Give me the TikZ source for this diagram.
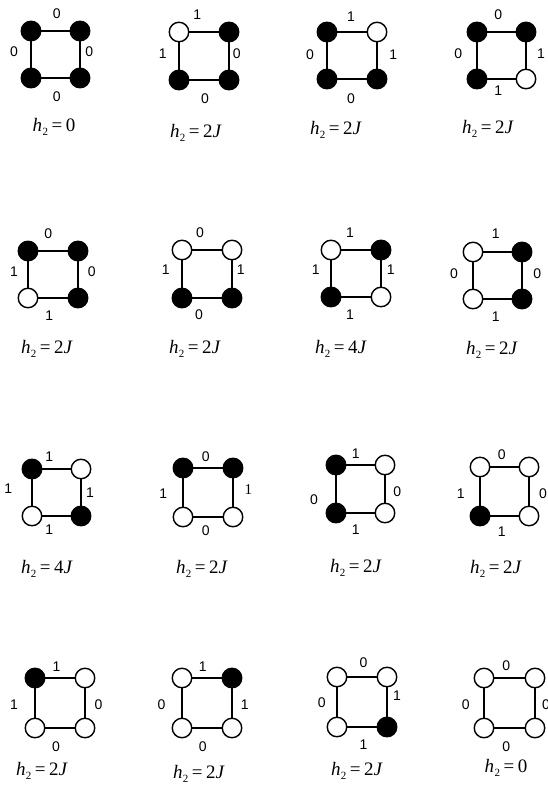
\documentclass[tikz,border=0pt]{standalone}
\usepackage{fontspec}
\setmainfont{Liberation Serif}
\newfontfamily\labfont{Liberation Sans}
\tikzset{
  spin/.style={circle, draw=black, line width=1.4pt, minimum size=19.5pt, inner sep=0pt},
  B/.style={spin, fill=black},
  W/.style={spin, fill=white},
  edge/.style={line width=1.9pt},
  lab/.style={font=\labfont\fontsize{14}{15}\selectfont, inner sep=0pt},
  slab/.style={font=\fontsize{15}{16}\selectfont, inner sep=0pt},
  hlab/.style={font=\fontsize{19}{20}\selectfont, inner sep=0pt, anchor=base},
}
\newcommand\hval[1]{\textit{h}\kern0.3pt\raisebox{-4.5pt}{\fontsize{11}{12}\selectfont 2}\kern3.5pt=\kern3.5pt#1}
\newcommand\cellsq[9]{%
  \node[#6] (#1a) at (#2,#4) {};
  \node[#7] (#1b) at (#3,#4) {};
  \node[#8] (#1c) at (#2,#5) {};
  \node[#9] (#1d) at (#3,#5) {};
  \draw[edge] (#1a) -- (#1b);
  \draw[edge] (#1b) -- (#1d);
  \draw[edge] (#1d) -- (#1c);
  \draw[edge] (#1c) -- (#1a);
}
\newcommand\elab[4]{\node[lab] (#1) at (#2,#3) {#4};}
\begin{document}
\begin{tikzpicture}[x=1pt,y=-1pt]
\useasboundingbox (0,0) rectangle (548,787);
% Row 1
\cellsq{pa}{31}{80}{31}{78}{B}{B}{B}{B}
\elab{pat}{56.7}{14}{0}\elab{pal}{14}{51.7}{0}\elab{par}{89.3}{51.7}{0}\elab{pab}{56.7}{96.7}{0}
\node[hlab] (pah) at (54,131) {\hval{0}};
\cellsq{pb}{179}{229}{32}{80}{W}{B}{B}{B}
\elab{pbt}{197.3}{15}{1}\elab{pbl}{162.7}{53.3}{1}\elab{pbr}{236.7}{53.3}{0}\elab{pbb}{205}{98.3}{0}
\node[hlab] (pbh) at (196,137) {\hval{2\textit{J}}};
\cellsq{pc}{327}{377}{32}{79}{B}{W}{B}{B}
\elab{pct}{351}{16.7}{1}\elab{pcl}{310}{54.3}{0}\elab{pcr}{393.3}{54.3}{1}\elab{pcb}{351}{98.3}{0}
\node[hlab] (pch) at (336,134) {\hval{2\textit{J}}};
\cellsq{pd}{477}{526}{32}{79}{B}{B}{B}{W}
\elab{pdt}{498.3}{15}{0}\elab{pdl}{458.3}{53.3}{0}\elab{pdr}{541}{53.3}{1}\elab{pdb}{498.3}{90.7}{1}
\node[hlab] (pdh) at (488,133) {\hval{2\textit{J}}};
% Row 2
\cellsq{qa}{28}{78}{251}{298}{B}{B}{W}{B}
\elab{qat}{48.3}{233.3}{0}\elab{qal}{14}{271.7}{1}\elab{qar}{91.7}{271.7}{0}\elab{qab}{49.3}{316}{1}
\node[hlab] (qah) at (47,353) {\hval{2\textit{J}}};
\cellsq{qb}{182}{232}{250}{298}{W}{W}{B}{B}
\elab{qbt}{200}{232.7}{0}\elab{qbl}{165.7}{270}{1}\elab{qbr}{240.7}{270}{1}\elab{qbb}{199}{315}{0}
\node[hlab] (qbh) at (195,353) {\hval{2\textit{J}}};
\cellsq{qc}{331}{381}{250}{297}{W}{B}{B}{W}
\elab{qct}{350}{232.7}{1}\elab{qcl}{315.7}{270}{1}\elab{qcr}{390.7}{270}{1}\elab{qcb}{350}{315}{1}
\node[hlab] (qch) at (341,353) {\hval{4\textit{J}}};
\cellsq{qd}{473}{522}{252}{299}{W}{B}{W}{B}
\elab{qdt}{495.7}{234}{1}\elab{qdl}{454}{273.3}{0}\elab{qdr}{537.3}{273.3}{0}\elab{qdb}{495.7}{316.7}{1}
\node[hlab] (qdh) at (492,354) {\hval{2\textit{J}}};
% Row 3
\cellsq{ra}{32}{81}{469}{516}{B}{W}{W}{B}
\elab{rat}{49.3}{456.7}{1}\elab{ral}{8.3}{488.3}{1}\elab{rar}{90}{492.7}{1}\elab{rab}{49.3}{530}{1}
\node[hlab] (rah) at (47,573) {\hval{4\textit{J}}};
\cellsq{rb}{183}{233}{468}{517}{B}{B}{W}{W}
\elab{rbt}{205.7}{456.7}{0}\elab{rbl}{163.3}{493.3}{1}\node[slab] (rbr) at (248.3,490) {1};\elab{rbb}{205.7}{530.7}{0}
\node[hlab] (rbh) at (202,573) {\hval{2\textit{J}}};
\cellsq{rc}{336}{385}{465}{513}{B}{W}{B}{W}
\elab{rct}{355.7}{454}{1}\elab{rcl}{314}{499.3}{0}\elab{rcr}{397.3}{491.7}{0}\elab{rcb}{355.7}{529.3}{1}
\node[hlab] (rch) at (356,572) {\hval{2\textit{J}}};
\cellsq{rd}{480}{529}{467}{516}{W}{W}{B}{W}
\elab{rdt}{501.7}{455}{0}\elab{rdl}{460.7}{494}{1}\elab{rdr}{543}{493.3}{0}\elab{rdb}{501.7}{531.7}{1}
\node[hlab] (rdh) at (496,573) {\hval{2\textit{J}}};
% Row 4
\cellsq{sa}{35}{85}{678}{728}{B}{W}{W}{W}
\elab{sat}{56.6}{666.7}{1}\elab{sal}{14}{705}{1}\elab{sar}{98.6}{705}{0}\elab{sab}{56}{746.4}{0}
\node[hlab] (sah) at (42,775) {\hval{2\textit{J}}};
\cellsq{sb}{182}{232}{678}{728}{W}{B}{W}{W}
\elab{sbt}{202.8}{666.7}{1}\elab{sbl}{161.5}{705}{0}\elab{sbr}{244.8}{705}{1}\elab{sbb}{202.8}{746.4}{0}
\node[hlab] (sbh) at (199,778) {\hval{2\textit{J}}};
\cellsq{sc}{337}{387}{677}{727}{W}{W}{W}{B}
\elab{sct}{363.6}{663}{0}\elab{scl}{321.7}{702.7}{0}\elab{scr}{396.9}{695.7}{1}\elab{scb}{363.6}{744.7}{1}
\node[hlab] (sch) at (357,775) {\hval{2\textit{J}}};
\cellsq{sd}{484}{535}{678}{728}{W}{W}{W}{W}
\elab{sdt}{506.3}{666}{0}\elab{sdl}{465.7}{704.4}{0}\elab{sdr}{546}{704.4}{0}\elab{sdb}{506.3}{746.4}{0}
\node[hlab] (sdh) at (506,772) {\hval{0}};
\end{tikzpicture}
\end{document}
